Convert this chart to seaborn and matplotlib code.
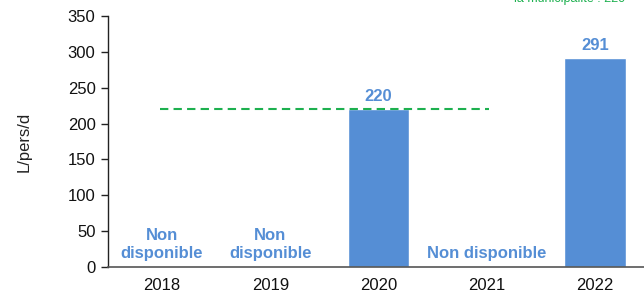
import matplotlib
matplotlib.use("Agg")
import matplotlib.pyplot as plt
import seaborn as sns
import numpy as np
import pandas as pd

years = ["2018", "2019", "2020", "2021", "2022"]
values = [np.nan, np.nan, 220, np.nan, 291]
value_labels = [None, None, "220", None, "291"]
missing_labels = ["Non\ndisponible", "Non\ndisponible", None, "Non disponible", None]
target = 220
target_label = "la municipalité : 220"
yticks = [0, 50, 100, 150, 200, 250, 300, 350]

sns.set_theme(style="white")
plt.rcParams['font.family'] = ['Liberation Sans', 'DejaVu Sans']

bar_color = "#558ED5"
green = "#1DB04F"

fig = plt.figure(figsize=(6.44, 2.95), dpi=100)
ax = fig.add_axes([108/644, 1-267/295, (649-108)/644, (267-16)/295])

df = pd.DataFrame({"year": years, "value": values})
sns.barplot(data=df, x="year", y="value", order=years, color=bar_color,
            saturation=1, width=0.57, ax=ax)

ax.set_xlim(-0.5, 4.5)
ax.set_ylim(0, 350)
ax.set_yticks(yticks)
ax.set_xlabel("")
ax.set_ylabel("L/pers/d", fontsize=12, color="#222222", labelpad=26)

ax.plot([-0.02, 3.02], [target, target], linestyle=(0, (4, 2.5)), color=green, lw=1.5, zorder=3)

for i, (v, lab) in enumerate(zip(values, value_labels)):
    if lab is not None:
        ax.text(i, v + 7, lab, ha="center", va="bottom", fontsize=12,
                fontweight="bold", color=bar_color)
for i, lab in enumerate(missing_labels):
    if lab is not None:
        ax.text(i, 13, lab, ha="center", va="baseline", fontsize=12,
                fontweight="bold", color=bar_color, linespacing=1.2)

fig.text(625/644, 1-2/295, target_label, ha="right", va="baseline",
         fontsize=9, color=green)

for s in ["top", "right"]:
    ax.spines[s].set_visible(False)
ax.spines["left"].set_color("#222222")
ax.spines["bottom"].set_color("#555555")
ax.spines["left"].set_linewidth(1)
ax.spines["bottom"].set_linewidth(1.2)
ax.tick_params(axis="y", which="both", left=True, length=5, width=1,
               color="#222222", labelsize=12, labelcolor="#111111", pad=4)
ax.tick_params(axis="x", bottom=False, labelsize=12, labelcolor="#111111", pad=2)

fig.savefig("out.png", dpi=100)
